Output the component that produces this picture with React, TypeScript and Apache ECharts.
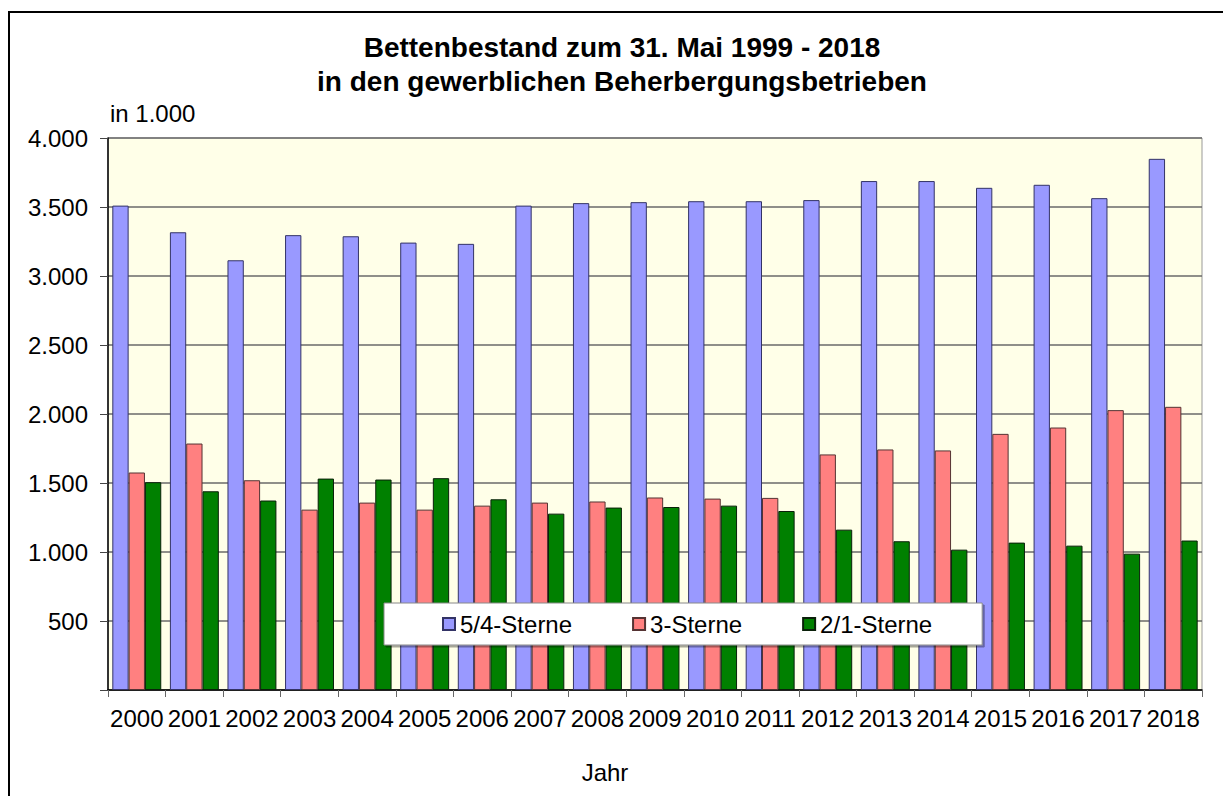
import React, { useEffect, useRef } from "react";
import * as echarts from "echarts";

const years = ["2000","2001","2002","2003","2004","2005","2006","2007","2008","2009","2010","2011","2012","2013","2014","2015","2016","2017","2018"];
const stars54 = [3510,3317,3114,3296,3288,3242,3233,3510,3528,3535,3542,3542,3550,3688,3688,3639,3661,3564,3849];
const stars3 = [1576,1786,1520,1307,1358,1307,1336,1358,1366,1395,1387,1392,1707,1743,1736,1856,1902,2028,2052];
const stars21 = [1506,1440,1373,1532,1525,1535,1382,1278,1322,1326,1336,1297,1162,1078,1017,1068,1046,988,1083];
const seriesNames = ["5/4-Sterne", "3-Sterne", "2/1-Sterne"];
const titleLines = ["Bettenbestand zum 31. Mai 1999 - 2018", "in den gewerblichen Beherbergungsbetrieben"];

const FONT = "'Liberation Sans', Arial, sans-serif";

function fmt(v: number): string {
  if (v === 0) return "";
  const s = String(v);
  return s.length > 3 ? s.slice(0, s.length - 3) + "." + s.slice(s.length - 3) : s;
}

export default function App() {
  const ref = useRef<HTMLDivElement>(null);
  useEffect(() => {
    if (!ref.current) return;
    const chart = echarts.init(ref.current, null, { renderer: "svg" });
    const mk = (name: string, data: number[], color: string, border: string) => ({
      name,
      type: "bar",
      data,
      barGap: "0%",
      barCategoryGap: "15%",
      itemStyle: { color, borderColor: border, borderWidth: 1 },
    });
    chart.setOption({
      animation: false,
      backgroundColor: "#ffffff",
      textStyle: { fontFamily: FONT },
      grid: {
        left: 108,
        right: 21,
        top: 138,
        bottom: 106,
        show: true,
        backgroundColor: "#FFFFE8",
        borderColor: "#999999",
        borderWidth: 1,
      },
      legend: {
        data: seriesNames,
        left: 384,
        top: 603,
        orient: "horizontal",
        itemWidth: 12,
        itemHeight: 12,
        itemGap: 60,
        padding: [9, 50, 9, 58],
        backgroundColor: "#ffffff",
        borderColor: "#888888",
        borderWidth: 1,
        shadowColor: "rgba(0,0,0,0.35)",
        shadowOffsetX: 2,
        shadowOffsetY: 2,
        shadowBlur: 0,
        icon: "rect",
        textStyle: { fontSize: 24, color: "#000", fontFamily: FONT },
      },
      xAxis: {
        type: "category",
        data: years,
        axisLine: { show: true, lineStyle: { color: "#000", width: 1.5 } },
        axisTick: { show: true, length: 7, inside: false, lineStyle: { color: "#666" } },
        axisLabel: { fontSize: 24, color: "#000", margin: 16, interval: 0, fontFamily: FONT },
      },
      yAxis: {
        type: "value",
        min: 0,
        max: 4000,
        interval: 500,
        axisLine: { show: true, lineStyle: { color: "#000", width: 1.5 } },
        axisTick: { show: true, length: 8, lineStyle: { color: "#444" } },
        axisLabel: { fontSize: 24, color: "#000", margin: 20, formatter: fmt, fontFamily: FONT },
        splitLine: { show: true, lineStyle: { color: "#6a6a6a", width: 1.5 } },
      },
      series: [
        mk(seriesNames[0], stars54, "#9999FF", "#333366"),
        mk(seriesNames[1], stars3, "#FF8080", "#553333"),
        mk(seriesNames[2], stars21, "#008000", "#0a200a"),
      ],
      graphic: [
        {
          type: "rect",
          shape: { x: 9, y: 12, width: 1400, height: 1000 },
          style: { fill: "none", stroke: "#000", lineWidth: 2 },
          silent: true,
          z: 100,
        },
        {
          type: "text",
          x: 622,
          y: 47,
          style: {
            text: titleLines[0],
            fontSize: 28,
            fontWeight: "bold",
            fontFamily: FONT,
            fill: "#000",
            align: "center",
            verticalAlign: "middle",
          },
        },
        {
          type: "text",
          x: 622,
          y: 81,
          style: {
            text: titleLines[1],
            fontSize: 28,
            fontWeight: "bold",
            fontFamily: FONT,
            fill: "#000",
            align: "center",
            verticalAlign: "middle",
          },
        },
        {
          type: "text",
          x: 110,
          y: 113,
          style: { text: "in 1.000", fontSize: 24, fontFamily: FONT, fill: "#000", align: "left", verticalAlign: "middle" },
        },
        {
          type: "text",
          x: 605,
          y: 772,
          style: { text: "Jahr", fontSize: 24, fontFamily: FONT, fill: "#000", align: "center", verticalAlign: "middle" },
        },
      ],
    });
    return () => chart.dispose();
  }, []);
  return <div ref={ref} style={{ position: "absolute", left: 0, top: 0, width: 1223, height: 796 }} />;
}
